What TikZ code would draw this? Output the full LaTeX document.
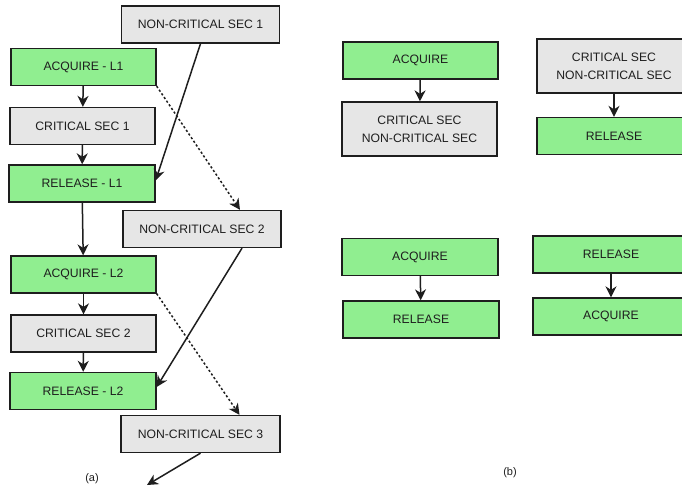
\documentclass[tikz,border=0pt]{standalone}
\usepackage{fontspec}
\setmainfont{Liberation Sans}
\usetikzlibrary{arrows.meta}

\definecolor{lockgreen}{HTML}{90EE90}
\definecolor{secgrey}{HTML}{E6E6E6}
\definecolor{edge}{HTML}{1E1E1E}

\tikzset{
	box/.style={draw=edge, line width=1.3pt, text=edge, align=center,
		inner sep=0pt, minimum height=37pt,
		font=\fontsize{12.2}{18}\selectfont},
	lockbox/.style={box, fill=lockgreen},
	secbox/.style={box, fill=secgrey},
	arr/.style={-{Stealth[length=11pt,width=11pt,inset=3.5pt]}, line width=1.5pt, draw=edge},
	dotarr/.style={arr, dash pattern=on 2.2pt off 2.2pt},
}

\begin{document}
\begin{tikzpicture}[x=1pt,y=-1pt] % tikzpicture環境開始
\clip (0,0) rectangle (682,487);
\fill[white] (0,0) rectangle (682,487);
% (a)
\node[secbox,  minimum width=158pt] (ncsa) at (200.5,24.5) {NON-CRITICAL SEC 1};
\node[lockbox, minimum width=145pt] (acqa) at (83.5,67) {ACQUIRE - L1};
\node[secbox,  minimum width=145pt] (csa)  at (82.5,126) {CRITICAL SEC 1};
\node[lockbox, minimum width=146pt] (rela) at (82,183.5) {RELEASE - L1};
\node[secbox,  minimum width=158pt] (ncsb) at (202,229) {NON-CRITICAL SEC 2};
\node[lockbox, minimum width=145pt] (acqb) at (83.5,274.5) {ACQUIRE - L2};
\node[secbox,  minimum width=145pt] (csb)  at (83.5,333.5) {CRITICAL SEC 2};
\node[lockbox, minimum width=146pt] (relb) at (83,391) {RELEASE - L2};
\node[secbox,  minimum width=159pt] (ncsc) at (200.5,434) {NON-CRITICAL SEC 3};
\coordinate (enda) at (147,485);
\node[font=\fontsize{11}{13}\selectfont, text=edge] (capa) at (92,479) {(a)};

\foreach \a/\b in {acqa/csa, csa/rela, rela/acqb, acqb/csb, csb/relb}{%
	\draw[arr] (\a) -- (\b);
}%
\draw[arr] (ncsa.south) -- ([yshift=3pt]rela.east);
\draw[dotarr] (acqa.south east) -- ([xshift=38pt]ncsb.north);
\draw[arr] ([xshift=40pt]ncsb.south) -- ([yshift=4pt]relb.east);
\draw[dotarr] (acqb.south east) -- ([xshift=39pt]ncsc.north);
\draw[arr] (ncsc.south) -- (enda);

% (b)
\node[lockbox, minimum width=155pt] (pa) at (420.5,60.5) {ACQUIRE};
\node[secbox,  minimum width=155pt, minimum height=54pt] (pb) at (419.5,129) {CRITICAL SEC\\NON-CRITICAL SEC};
\node[secbox,  minimum width=154pt, minimum height=54pt] (qa) at (614,66) {CRITICAL SEC\\NON-CRITICAL SEC};
\node[lockbox, minimum width=154pt] (qb) at (614,136) {RELEASE};
\node[lockbox, minimum width=156pt] (ra) at (420,257) {ACQUIRE};
\node[lockbox, minimum width=156pt] (rb) at (421,319.5) {RELEASE};
\node[lockbox, minimum width=156pt] (sa) at (611,254.5) {RELEASE};
\node[lockbox, minimum width=156pt] (sb) at (611,316.5) {ACQUIRE};
\node[font=\fontsize{11}{13}\selectfont, text=edge] (capb) at (510,473) {(b)};

\foreach \a/\b in {pa/pb, qa/qb, ra/rb, sa/sb}{%
	\draw[arr] (\a) -- (\b);
}%
\end{tikzpicture}
\end{document}
